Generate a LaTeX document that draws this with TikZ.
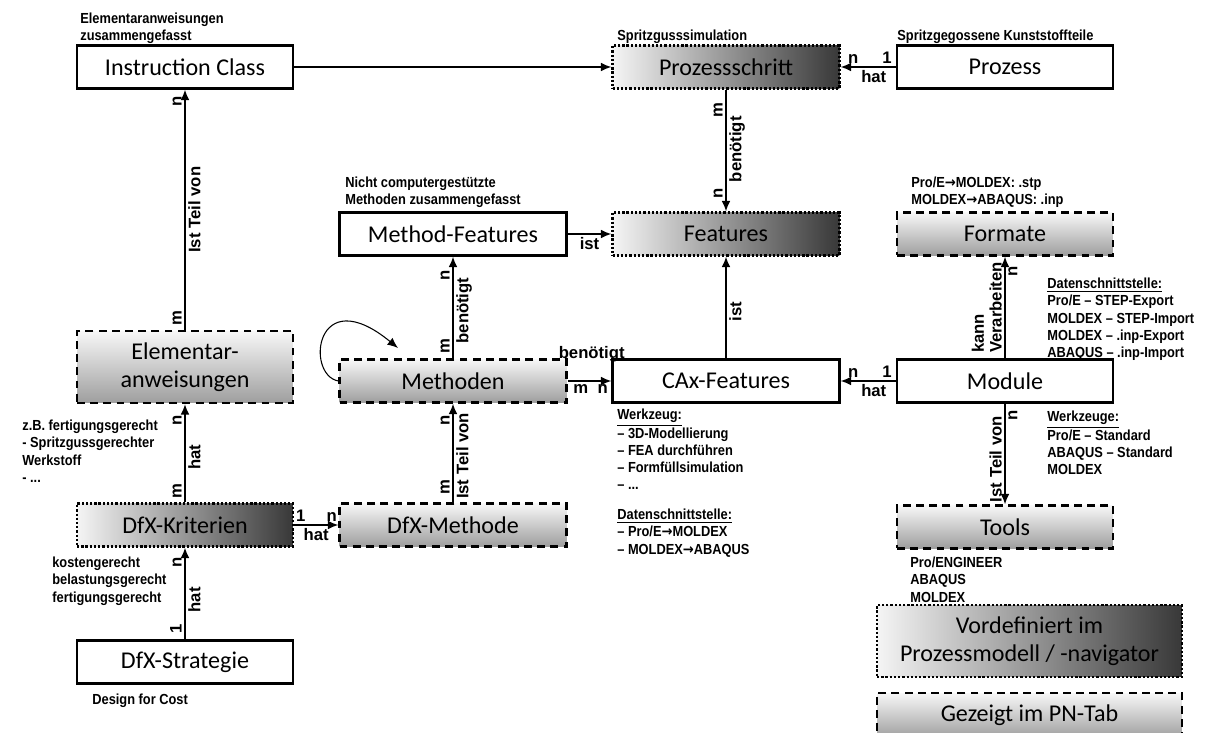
\documentclass[tikz,border=0pt]{standalone}
\usepackage{fontspec}
\setmainfont{Carlito}
\newfontfamily\notefont[FakeStretch=0.88]{Liberation Sans}
\newfontfamily\lblfamily{Liberation Sans}
\newfontfamily\arrowfont[FakeStretch=0.9]{DejaVu Sans}
\newcommand\toarr{{\arrowfont →}}
\usetikzlibrary{arrows.meta}

\tikzset{
  box/.style={draw, line width=1.3pt, minimum width=4.32cm, minimum height=0.86cm,
    inner sep=0pt, align=center, font=\fontsize{13.7}{16}\selectfont},
  wide/.style={minimum width=4.54cm},
  plain/.style={box, fill=white},
  dashbox/.style={box, dash pattern=on 4.5pt off 3pt, top color=gray!6, bottom color=black!38},
  dotbox/.style={box, dash pattern=on 1.3pt off 1.1pt, left color=gray!8, right color=black!78},
  note/.style={anchor=north west, inner sep=0pt, align=left,
    font=\notefont\bfseries\fontsize{8.3}{9.7}\selectfont},
  lbl/.style={inner sep=1.5pt, align=center, font=\lblfamily\bfseries\fontsize{9.5}{10}\selectfont},
  link/.style={line width=0.8pt, -{Latex[length=6pt,width=5pt]}}
}

\begin{document}
\begin{tikzpicture}[x=0.02cm, y=-0.02cm]
  \useasboundingbox (0,0) rectangle (1211,733);

  % Boxes
  \node[plain] (instr) at (185,67) {Instruction Class};
  \node[dotbox, wide] (pstep) at (726,67) {Prozessschritt};
  \node[plain] (proc) at (1005,67) {Prozess};
  \node[plain, wide] (mfeat) at (453,234) {Method-Features};
  \node[dotbox, wide] (feat) at (726,234) {Features};
  \node[dashbox] (fmt) at (1005,234) {Formate};
  \node[dashbox, minimum height=1.44cm] (elem) at (185,367) {Elementar-\\anweisungen};
  \node[dashbox, wide] (meth) at (453,381) {Methoden};
  \node[plain, wide] (cax) at (726,381) {CAx-Features};
  \node[plain] (mod) at (1005,381) {Module};
  \node[dotbox] (krit) at (185,525) {DfX-Kriterien};
  \node[dashbox, wide] (dmeth) at (453,525) {DfX-Methode};
  \node[dashbox] (tools) at (1005,527) {Tools};
  \node[plain] (strat) at (185,662) {DfX-Strategie};

  % Legend
  \node[dotbox, minimum width=6.1cm, minimum height=1.44cm] (legdot) at (1029.5,641)
    {Vordefiniert im\\Prozessmodell / -navigator};
  \node[dashbox, minimum width=6.1cm, minimum height=0.9cm] (legdash) at (1029.5,715.5)
    {Gezeigt im PN-Tab};

  % Notes
  \node[note] (nelem) at (80,13) {Elementaranweisungen\\zusammengefasst};
  \node[note] (npstep) at (617,30) {Spritzgusssimulation};
  \node[note] (nproc) at (897,30) {Spritzgegossene Kunststoffteile};
  \node[note] (nmfeat) at (345,177) {Nicht computergestützte\\Methoden zusammengefasst};
  \node[note] (nfmt) at (911,177) {Pro/E\toarr MOLDEX: .stp\\MOLDEX\toarr ABAQUS: .inp};
  \node[note] (nmodup) at (1047,278) {\underline{Datenschnittstelle:}\\Pro/E – STEP-Export\\MOLDEX – STEP-Import\\MOLDEX – .inp-Export\\ABAQUS – .inp-Import};
  \node[note] (nmoddn) at (1047,411) {\underline{Werkzeuge:}\\Pro/E – Standard\\ABAQUS – Standard\\MOLDEX};
  \node[note] (nkritup) at (22,420) {z.B. fertigungsgerecht\\- Spritzgussgerechter\\Werkstoff\\- ...};
  \node[note] (nkrit) at (52,557) {kostengerecht\\belastungsgerecht\\fertigungsgerecht};
  \node[note] (nstrat) at (92,694) {Design for Cost};
  \node[note] (ncax) at (617,409) {\underline{Werkzeug:}\\– 3D-Modellierung\\– FEA durchführen\\– Formfüllsimulation\\– ...};
  \node[note] (ncaxdn) at (617,509) {\underline{Datenschnittstelle:}\\– Pro/E\toarr MOLDEX\\– MOLDEX\toarr ABAQUS};
  \node[note] (ntools) at (910,557) {Pro/ENGINEER\\ABAQUS\\MOLDEX};

  % Connectors
  \draw[link] (instr) -- (pstep);
  \draw[link] (proc) -- (pstep)
    node[lbl,pos=0.16,above] {1} node[lbl,pos=0.77,above] {n}
    node[lbl,pos=0.4,below] {hat};
  \draw[link] (pstep) -- (feat)
    node[lbl,rotate=90,pos=0.17,above] {m} node[lbl,rotate=90,pos=0.85,above] {n}
    node[lbl,rotate=90,pos=0.49,below] {benötigt};
  \draw[link] (mfeat) -- (feat) node[lbl,pos=0.5,below] {ist};
  \draw[link] (cax) -- (feat) node[lbl,rotate=90,pos=0.46,below] {ist};
  \draw[link] (meth) -- (mfeat)
    node[lbl,rotate=90,pos=0.12,above] {m} node[lbl,rotate=90,pos=0.82,above] {n}
    node[lbl,rotate=90,pos=0.47,below] {benötigt};
  \draw[link] (meth) -- (cax)
    node[lbl,pos=0.3,below] {m} node[lbl,pos=0.8,below] {n}
    node[lbl,pos=0.55,yshift=0.54cm] {benötigt};
  \draw[link] (mod) -- (cax)
    node[lbl,pos=0.16,above] {1} node[lbl,pos=0.77,above] {n}
    node[lbl,pos=0.4,below] {hat};
  \draw[link] (mod) -- (fmt)
    node[lbl,rotate=90,pos=0.85,below] {n}
    node[lbl,rotate=90,pos=0.02,anchor=south west,align=left] {kann\\Verarbeiten};
  \draw[link] (mod) -- (tools)
    node[lbl,rotate=90,pos=0.12,below] {n}
    node[lbl,rotate=90,pos=0.55,above] {Ist Teil von};
  \draw[link] (elem) -- (instr)
    node[lbl,rotate=90,pos=0.05,above] {m} node[lbl,rotate=90,pos=0.95,above] {n}
    node[lbl,rotate=90,pos=0.5,below] {Ist Teil von};
  \draw[link] (krit) -- (elem)
    node[lbl,rotate=90,pos=0.11,above] {m} node[lbl,rotate=90,pos=0.83,above] {n}
    node[lbl,rotate=90,pos=0.46,below] {hat};
  \draw[link] (dmeth) -- (meth)
    node[lbl,rotate=90,pos=0.15,above] {m} node[lbl,rotate=90,pos=0.83,above] {n}
    node[lbl,rotate=90,pos=0.47,below] {Ist Teil von};
  \draw[link] (strat) -- (krit)
    node[lbl,rotate=90,pos=0.11,above] {1} node[lbl,rotate=90,pos=0.84,above] {n}
    node[lbl,rotate=90,pos=0.43,below] {hat};
  \draw[link] (krit) -- (dmeth)
    node[lbl,pos=0.15,above] {1} node[lbl,pos=0.85,above] {n}
    node[lbl,pos=0.5,below] {hat};

  % Methoden loop
  \coordinate (loopend) at (398,348);
  \draw[line width=0.6pt, -{Latex[length=6pt,width=5pt]}] (meth.west)
    .. controls (305,375) and (315,280) .. (loopend);
\end{tikzpicture}
\end{document}
